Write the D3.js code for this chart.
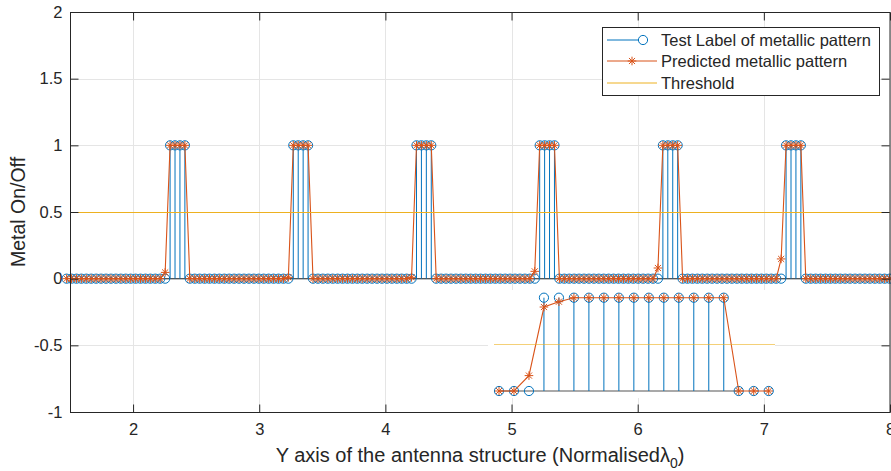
<!DOCTYPE html>
<html>
<head>
<meta charset="utf-8">
<script src="https://cdn.jsdelivr.net/npm/d3@7"></script>
<style>
  body { margin: 0; background: #fff; }
  text { font-family: Arial, "Liberation Sans", Helvetica, sans-serif; fill: #262626; }
  .axis text { font-size: 16.5px; }
  .axis line { stroke: #262626; }
  .grid line { stroke: #e5e5e5; }
</style>
</head>
<body>
<div id="chart"></div>
<script>
// x positions of samples: start + step * index
var xStart = 1.4731;
var xStep = 0.0390625;

// test labels (25 samples per period)
var testLabel = [
    0,0,0,0,0,0,0,0,0,0,0,0,0,0,0,0,0,0,0,0,0,1,1,1,1,
    0,0,0,0,0,0,0,0,0,0,0,0,0,0,0,0,0,0,0,0,0,1,1,1,1,
    0,0,0,0,0,0,0,0,0,0,0,0,0,0,0,0,0,0,0,0,0,1,1,1,1,
    0,0,0,0,0,0,0,0,0,0,0,0,0,0,0,0,0,0,0,0,0,1,1,1,1,
    0,0,0,0,0,0,0,0,0,0,0,0,0,0,0,0,0,0,0,0,0,1,1,1,1,
    0,0,0,0,0,0,0,0,0,0,0,0,0,0,0,0,0,0,0,0,0,1,1,1,1,
    0,0,0,0,0,0,0,0,0,0,0,0,0,0,0,0,0,0
];

// predicted pattern
var predicted = [
    0,0,0,0,0,0,0,0,0,0,0,0,0,0,0,0,0,0,0,0,0.047,1,1,1,1,
    0,0,0,0,0,0,0,0,0,0,0,0,0,0,0,0,0,0,0,0,0.01,1,1,1,1,
    0,0,0,0,0,0,0,0,0,0,0,0,0,0,0,0,0,0,0,0,0.01,1,1,1,1,
    0,0,0,0,0,0,0,0,0,0,0,0,0,0,0,0,0,0,0,0,0.055,1,1,1,1,
    0,0,0,0,0,0,0,0,0,0,0,0,0,0,0,0,0,0,0,0,0.08,1,1,1,1,
    0,0,0,0,0,0,0,0,0,0,0,0,0,0,0,0,0,0,0,0,0.148,1,1,1,1,
    0,0,0,0,0,0,0,0,0,0,0,0,0,0,0,0,0,0
];

var threshold = 0.5;

// zoomed inset of one metal strip
var insetTest = [0,0,0,1,1,1,1,1,1,1,1,1,1,1,1,1,0,0,0];
var insetPred = [0,0,0.165,0.9,0.957,1,1,1,1,1,1,1,1,1,1,1,0,0,0];

var xTicks = [2, 3, 4, 5, 6, 7, 8];
var yTicks = [-1, -0.5, 0, 0.5, 1, 1.5, 2];
var legendLabels = ["Test Label of metallic pattern", "Predicted metallic pattern", "Threshold"];

var blue = "#0072BD", orange = "#D95319", yellow = "#EDB120";

var width = 891, height = 471;
var plot = { left: 70, right: 890, top: 12, bottom: 412 };

var svg = d3.select("#chart").append("svg").attr("width", width).attr("height", height);

var xScale = d3.scaleLinear().domain([1.5, 8]).range([plot.left, plot.right]);
var yScale = d3.scaleLinear().domain([-1, 2]).range([plot.bottom, plot.top]);

// grid
svg.append("g").attr("class", "grid").selectAll("line.gx")
    .data(xTicks).enter().append("line")
    .attr("x1", function(d) { return Math.round(xScale(d)) + 0.5; })
    .attr("x2", function(d) { return Math.round(xScale(d)) + 0.5; })
    .attr("y1", plot.top).attr("y2", plot.bottom);
svg.select(".grid").selectAll("line.gy")
    .data(yTicks).enter().append("line")
    .attr("x1", plot.left).attr("x2", plot.right)
    .attr("y1", function(d) { return Math.round(yScale(d)) + 0.5; })
    .attr("y2", function(d) { return Math.round(yScale(d)) + 0.5; });

// star marker path (asterisk)
function starPath(r) {
    var a = r * 0.7071;
    return "M" + (-r) + ",0L" + r + ",0M0," + (-r) + "L0," + r +
        "M" + (-a) + "," + (-a) + "L" + a + "," + a + "M" + (-a) + "," + a + "L" + a + "," + (-a);
}

// draws stems + prediction with given scales
function drawSeries(g, xs, ys, xv, tv, pv, baseX0, baseX1) {
    var pts = tv.map(function(t, i) { return { x: xv[i], t: t, p: pv[i] }; });

    // baseline
    g.append("line")
        .attr("x1", baseX0).attr("x2", baseX1)
        .attr("y1", ys(0)).attr("y2", ys(0))
        .attr("stroke", "#555").attr("stroke-width", 1.2);

    // stems
    g.selectAll(".stem").data(pts.filter(function(d) { return d.t !== 0; }))
        .enter().append("line")
        .attr("class", "stem")
        .attr("x1", function(d) { return xs(d.x); })
        .attr("x2", function(d) { return xs(d.x); })
        .attr("y1", ys(0))
        .attr("y2", function(d) { return ys(d.t); })
        .attr("stroke", blue).attr("stroke-width", 1);

    g.selectAll(".dot").data(pts).enter().append("circle")
        .attr("class", "dot")
        .attr("cx", function(d) { return xs(d.x); })
        .attr("cy", function(d) { return ys(d.t); })
        .attr("r", 4.6)
        .attr("fill", "none").attr("stroke", blue).attr("stroke-width", 1);

    // predicted line
    var line = d3.line()
        .x(function(d) { return xs(d.x); })
        .y(function(d) { return ys(d.p); });
    g.append("path").datum(pts)
        .attr("d", line)
        .attr("fill", "none").attr("stroke", orange).attr("stroke-width", 1.1);

    g.selectAll(".star").data(pts).enter().append("path")
        .attr("class", "star")
        .attr("transform", function(d) { return "translate(" + [xs(d.x), ys(d.p)] + ")"; })
        .attr("d", starPath(4.3))
        .attr("fill", "none").attr("stroke", orange).attr("stroke-width", 1);
}

var xValues = testLabel.map(function(d, i) { return xStart + xStep * i; });

var main = svg.append("g");
drawSeries(main, xScale, yScale, xValues, testLabel, predicted, plot.left, plot.right);

// threshold
main.append("line")
    .attr("x1", plot.left).attr("x2", plot.right)
    .attr("y1", Math.round(yScale(threshold)) + 0.5).attr("y2", Math.round(yScale(threshold)) + 0.5)
    .attr("stroke", yellow).attr("stroke-width", 1.2);

// inset
var inset = { left: 494, right: 775, top: 290, bottom: 398 };
var insetIdx = insetTest.map(function(d, i) { return i; });
var xIn = d3.scaleLinear().domain([0, 18]).range([499, 768.7]);
var yIn = d3.scaleLinear().domain([0, 1]).range([391, 297.7]);

var ig = svg.append("g");
ig.append("rect")
    .attr("x", inset.left - 6).attr("y", inset.top)
    .attr("width", inset.right - inset.left + 6).attr("height", inset.bottom - inset.top)
    .attr("fill", "#fff");
drawSeries(ig, xIn, yIn, insetIdx, insetTest, insetPred, xIn(0), xIn(16));
ig.append("line")
    .attr("x1", inset.left).attr("x2", inset.right)
    .attr("y1", Math.round(yIn(threshold)) + 0.5).attr("y2", Math.round(yIn(threshold)) + 0.5)
    .attr("stroke", yellow).attr("stroke-width", 1.2).attr("opacity", 0.6);

// axes box
svg.append("rect")
    .attr("x", plot.left + 0.5).attr("y", plot.top + 0.5)
    .attr("width", plot.right - plot.left - 1 + 0.5).attr("height", plot.bottom - plot.top)
    .attr("fill", "none").attr("stroke", "#262626").attr("stroke-width", 1);

var xAxis = d3.axisBottom(xScale).tickValues(xTicks).tickSize(-8).tickSizeOuter(0).tickPadding(11)
    .tickFormat(d3.format("d"));
svg.append("g").attr("class", "axis")
    .attr("transform", "translate(0," + (plot.bottom + 0.5) + ")")
    .call(xAxis)
    .call(function(g) { g.select(".domain").remove(); });

var yAxis = d3.axisLeft(yScale).tickValues(yTicks).tickSize(-8).tickSizeOuter(0).tickPadding(8)
    .tickFormat(function(d) { return String(d); });
svg.append("g").attr("class", "axis")
    .attr("transform", "translate(" + (plot.left + 0.5) + ",0)")
    .call(yAxis)
    .call(function(g) { g.select(".domain").remove(); });

// ticks on top and right
svg.append("g").attr("class", "axis")
    .attr("transform", "translate(0," + (plot.top + 0.5) + ")")
    .call(d3.axisTop(xScale).tickValues(xTicks).tickSize(-8).tickSizeOuter(0).tickFormat(""))
    .call(function(g) { g.select(".domain").remove(); });
svg.append("g").attr("class", "axis")
    .attr("transform", "translate(" + (plot.right - 0.5) + ",0)")
    .call(d3.axisRight(yScale).tickValues(yTicks).tickSize(-8).tickSizeOuter(0).tickFormat(""))
    .call(function(g) { g.select(".domain").remove(); });

// axis labels
var xl = svg.append("text")
    .attr("x", (plot.left + plot.right) / 2).attr("y", 462)
    .attr("text-anchor", "middle")
    .style("font-size", "20px");
xl.append("tspan").text("Y axis of the antenna structure (Normalised");
xl.append("tspan").text("λ");
xl.append("tspan").attr("dy", 6).style("font-size", "14px").text("0");
xl.append("tspan").attr("dy", -6).text(")");

svg.append("text")
    .attr("transform", "translate(" + [25, (plot.top + plot.bottom) / 2] + ") rotate(-90)")
    .attr("text-anchor", "middle")
    .style("font-size", "19.5px")
    .text("Metal On/Off");

// legend
var leg = svg.append("g").attr("transform", "translate(602,27)");
leg.append("rect").attr("x", 0.5).attr("y", 0.5).attr("width", 277).attr("height", 68)
    .attr("fill", "#fff").attr("stroke", "#262626").attr("stroke-width", 1);
var rowY = [13, 34, 56];
var legColors = [blue, orange, yellow];
legendLabels.forEach(function(lab, i) {
    var y = rowY[i];
    if (i === 0) {
        leg.append("line").attr("x1", 5).attr("x2", 37).attr("y1", y).attr("y2", y)
            .attr("stroke", blue).attr("stroke-width", 1);
        leg.append("circle").attr("cx", 41).attr("cy", y).attr("r", 4.6)
            .attr("fill", "none").attr("stroke", blue).attr("stroke-width", 1);
    } else {
        leg.append("line").attr("x1", 5).attr("x2", 55).attr("y1", y).attr("y2", y)
            .attr("stroke", legColors[i]).attr("stroke-width", 1);
        if (i === 1) {
            leg.append("path").attr("transform", "translate(" + [30, y] + ")")
                .attr("d", starPath(4.3)).attr("fill", "none").attr("stroke", orange);
        }
    }
    leg.append("text").attr("x", 59).attr("y", y).attr("dy", "0.35em")
        .style("font-size", "16.5px").text(lab);
});
</script>
</body>
</html>
